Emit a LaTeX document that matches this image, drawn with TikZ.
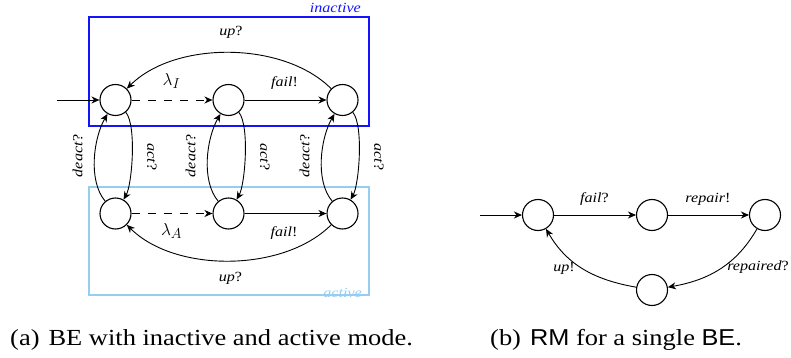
\documentclass[tikz,border=0pt]{standalone}
\usepackage{fontspec}
\setmainfont{Liberation Serif}[FakeStretch=1.15]
\newfontfamily\capsans{Liberation Sans}[FakeStretch=1.1]
\usetikzlibrary{arrows.meta}
\definecolor{inblue}{RGB}{20,20,250}
\definecolor{actblue}{RGB}{150,205,240}
\begin{document}
\begin{tikzpicture}[x=1pt,y=-1pt,
  state/.style={circle,draw,line width=1.1pt,minimum size=31pt,inner sep=0pt},
  tr/.style={-{Stealth[length=8pt,width=7pt,inset=2.5pt]},line width=0.9pt},
  lbl/.style={font=\fontsize{14}{16}\selectfont, inner sep=0pt, anchor=base},
  captext/.style={font=\fontsize{23}{27}\selectfont, inner sep=0pt, anchor=base west},
  dsh/.style={dash pattern=on 8pt off 8pt}]
\useasboundingbox (0,0) rectangle (791,358);
% boxes
\draw[inblue, line width=1.1pt] (89,17) rectangle (369,126);
\draw[actblue, line width=1.1pt] (89,187) rectangle (369,295);
\node[lbl, text=inblue, anchor=base east] (linact) at (361,12.5) {\textit{inactive}};
\node[lbl, text=actblue, anchor=base east] (lact) at (362,297) {\textit{active}};
% states (a)
\node[state] (a1) at (115.5,100) {};
\node[state] (a2) at (228.5,100) {};
\node[state] (a3) at (342.5,100) {};
\node[state] (b1) at (115.5,213.5) {};
\node[state] (b2) at (228.5,213.5) {};
\node[state] (b3) at (342.5,213.5) {};
\coordinate (inA) at (56.5,100);
\draw[tr] (inA) -- (a1);
\draw[tr,dsh] (a1) -- (a2);
\draw[tr] (a2) -- (a3);
\draw[tr,dsh] (b1) -- (b2);
\draw[tr] (b2) -- (b3);
\draw[tr] (a3) to[out=135,in=45,looseness=0.85] (a1);
\draw[tr] (b3) to[out=-135,in=-45,looseness=0.85] (b1);
\foreach \i in {1,2,3}{
  \draw[tr] (b\i) to[out=130,in=-120,looseness=0.8] (a\i);
  \draw[tr] (a\i) to[out=-50,in=60,looseness=0.5] (b\i);
}
% labels (a)
\node[lbl] (lupA) at (231,36) {\textit{up}?};
\node[lbl] (lupB) at (230.5,281.5) {\textit{up}?};
\node[lbl] (lfailA) at (284.5,86.5) {\textit{fail}!};
\node[lbl] (lfailB) at (284,236) {\textit{fail}!};
\node[inner sep=0pt, font=\fontsize{19}{22}\selectfont] (llamI) at (171.5,81) {$\lambda_I$};
\node[inner sep=0pt, font=\fontsize{19}{22}\selectfont] (llamA) at (171.5,231) {$\lambda_A$};
\foreach \x/\n in {115.5/1,228.5/2,342.5/3}{
  \node[font=\fontsize{14}{16}\selectfont, inner sep=0pt, rotate=90] (ldeact\n) at (\x-38,156) {\textit{deact}?};
  \node[font=\fontsize{14}{16}\selectfont, inner sep=0pt, rotate=-90] (lact\n) at (\x+36.5,157) {\textit{act}?};
}
% (b)
\node[state] (c1) at (538,215) {};
\node[state] (c2) at (652,215) {};
\node[state] (c3) at (765,215) {};
\node[state] (c4) at (652,290) {};
\coordinate (inB) at (480,215);
\draw[tr] (inB) -- (c1);
\draw[tr] (c1) -- (c2);
\draw[tr] (c2) -- (c3);
\draw[tr] (c3) to[out=-120,in=10] (c4);
\draw[tr] (c4) to[out=170,in=-60] (c1);
\node[lbl] (lfailq) at (594.5,202.5) {\textit{fail}?};
\node[lbl] (lrepair) at (708,202.5) {\textit{repair}!};
\node[lbl] (lupx) at (564,271.5) {\textit{up}!};
\node[lbl] (lrepaired) at (758,270) {\textit{repaired}?};
% captions
\node[captext] (capa) at (10,345.5) {(a)\hspace{9pt}BE with inactive and active mode.};
\node[captext] (capb) at (490,345.5) {(b)\hspace{9pt}{\capsans RM} for a single {\capsans BE}.};
\end{tikzpicture}
\end{document}
